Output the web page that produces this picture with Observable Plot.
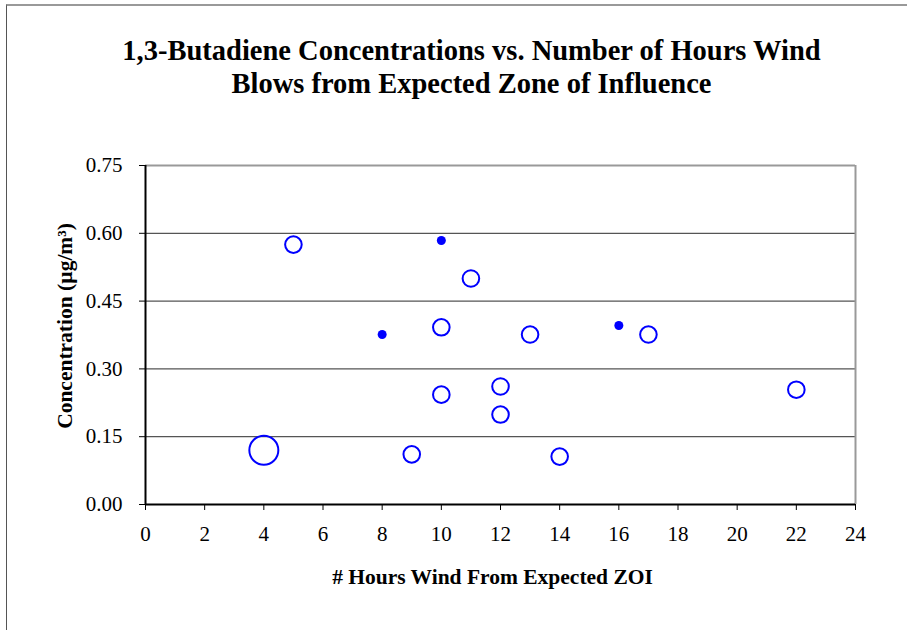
<!DOCTYPE html>
<html>
<head>
<meta charset="utf-8">
<script src="https://cdn.jsdelivr.net/npm/d3@7"></script>
<script src="https://cdn.jsdelivr.net/npm/@observablehq/plot@0.6"></script>
<style>
  html, body { margin: 0; padding: 0; background: #fff; }
  #wrap { position: relative; width: 907px; height: 630px; overflow: hidden; }
  #frame { position: absolute; left: 6px; top: 4px; width: 1000px; height: 1000px;
           border-left: 1.5px solid #555; border-top: 2px solid #999; }
  #chart { position: absolute; left: 0; top: 0; }
</style>
</head>
<body>
<div id="wrap"><div id="frame"></div><div id="chart"></div></div>
<script>
const titleLines = ["1,3-Butadiene Concentrations vs. Number of Hours Wind", "Blows from Expected Zone of Influence"];
const xLabel = "# Hours Wind From Expected ZOI";
const yLabel = "Concentration (µg/m³)";
const xTicks = [0, 2, 4, 6, 8, 10, 12, 14, 16, 18, 20, 22, 24];
const yTicks = [0, 0.15, 0.30, 0.45, 0.60, 0.75];

// open-circle samples
const hoursOpen = [5, 11, 10, 13, 17, 12, 10, 12, 9, 14, 22];
const concOpen  = [0.575, 0.500, 0.392, 0.376, 0.376, 0.261, 0.243, 0.199, 0.111, 0.106, 0.254];
// filled-dot samples
const hoursFilled = [10, 8, 16];
const concFilled  = [0.584, 0.376, 0.396];
// large-circle sample
const hoursLarge = [4];
const concLarge  = [0.120];

const toRows = (xs, ys) => xs.map((x, i) => ({x, y: ys[i]}));
const openRows = toRows(hoursOpen, concOpen);
const filledRows = toRows(hoursFilled, concFilled);
const largeRows = toRows(hoursLarge, concLarge);

const fmt = d3.format(".2f");
const blue = "#0000FF";

const chart = Plot.plot({
  width: 907,
  height: 630,
  marginLeft: 145,
  marginRight: 52,
  marginTop: 165,
  marginBottom: 126,
  style: { fontFamily: "'Liberation Serif', 'Times New Roman', serif", fontSize: "21px", background: "transparent", color: "#000" },
  x: { domain: [0, 24], label: null },
  y: { domain: [0, 0.75], label: null },
  marks: [
    Plot.ruleY(yTicks.filter(d => d > 0 && d < 0.75), { stroke: "#555", strokeWidth: 1.3 }),
    Plot.ruleY([0.75], { stroke: "#999", strokeWidth: 2 }),
    Plot.ruleX([24], { stroke: "#999", strokeWidth: 2 }),
    Plot.axisY({ ticks: yTicks, tickFormat: fmt, tickSize: 6, tickPadding: 17, label: null, fontSize: 21 }),
    Plot.axisX({ ticks: xTicks, tickFormat: d => String(d), tickSize: 6, tickPadding: 16, label: null, fontSize: 21 }),
    Plot.ruleX([0], { stroke: "#000", strokeWidth: 2 }),
    Plot.ruleY([0], { stroke: "#000", strokeWidth: 2 }),
    Plot.dot(openRows, { x: "x", y: "y", r: 8.3, stroke: blue, strokeWidth: 2, fill: "none" }),
    Plot.dot(largeRows, { x: "x", y: "y", r: 14.5, stroke: blue, strokeWidth: 2, fill: "none" }),
    Plot.dot(filledRows, { x: "x", y: "y", r: 4.5, fill: blue, stroke: "none" }),
    Plot.text([titleLines.join("\n")], { frameAnchor: "top", lineAnchor: "middle", dx: -29, dy: -100, fontSize: 28.5, fontWeight: "bold", lineHeight: 1.16 }),
    Plot.text([yLabel], { frameAnchor: "left", lineAnchor: "middle", textAnchor: "middle", rotate: -90, dx: -80, dy: -9, fontSize: 21.5, fontWeight: "bold" }),
    Plot.text([xLabel], { frameAnchor: "bottom", lineAnchor: "middle", dx: -8, dy: 73, fontSize: 21.5, fontWeight: "bold" })
  ]
});
document.getElementById("chart").appendChild(chart);
</script>
</body>
</html>
